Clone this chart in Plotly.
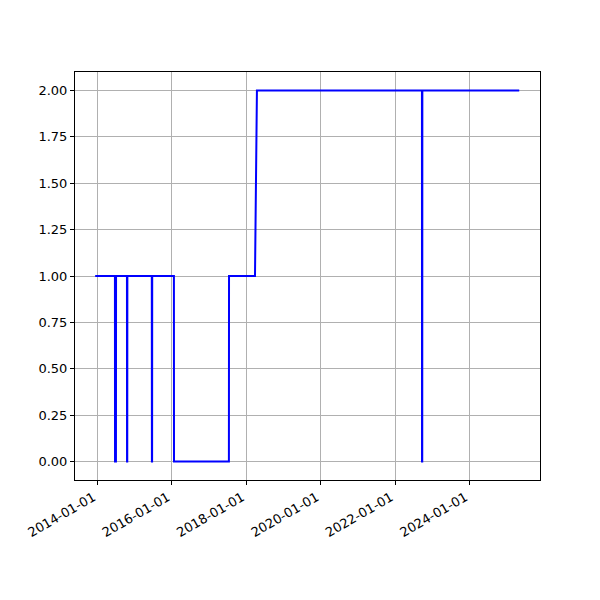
import plotly.graph_objects as go

dates = [
    "2013-12-10", "2014-06-22", "2014-06-23", "2014-07-02", "2014-07-03",
    "2014-10-18", "2014-10-19", "2014-10-21", "2014-10-22",
    "2015-06-19", "2015-06-20", "2015-06-22", "2015-06-23",
    "2016-01-22", "2016-01-23",
    "2017-07-15", "2017-07-16",
    "2018-03-28", "2018-04-16",
    "2022-09-22", "2022-09-23", "2022-09-25", "2022-09-26",
    "2025-05-04",
]
values = [
    1, 1, 0, 0, 1,
    1, 0, 0, 1,
    1, 0, 0, 1,
    1, 0,
    0, 1,
    1, 2,
    2, 0, 0, 2,
    2,
]
tick_vals = ["2014-01-01", "2016-01-01", "2018-01-01", "2020-01-01", "2022-01-01", "2024-01-01"]
y_ticks = [0, 0.25, 0.5, 0.75, 1.0, 1.25, 1.5, 1.75, 2.0]

fig = go.Figure()
fig.add_trace(go.Scatter(x=dates, y=values, mode="lines",
                         line=dict(color="blue", width=2), showlegend=False))

axis_common = dict(
    showline=True, linecolor="black", linewidth=1, mirror=True,
    ticks="outside", ticklen=4, tickcolor="black",
    showgrid=True, gridcolor="#b0b0b0", gridwidth=1, zeroline=False,
    automargin=False,
    tickfont=dict(family="DejaVu Sans", size=13, color="black"),
)
fig.update_xaxes(type="date", range=["2013-05-26", "2025-11-24"],
                 tickvals=tick_vals, ticktext=tick_vals, tickangle=-30,
                 ticklabelshift=-4,
                 **axis_common)
fig.update_yaxes(range=[-0.1, 2.1], tickvals=y_ticks, tickformat=".2f",
                 **axis_common)
fig.update_layout(width=600, height=600, plot_bgcolor="white", paper_bgcolor="white",
                  margin=dict(l=67, r=68, t=64, b=128, autoexpand=False),
                  font=dict(family="DejaVu Sans"))
fig.write_html("out.html")
